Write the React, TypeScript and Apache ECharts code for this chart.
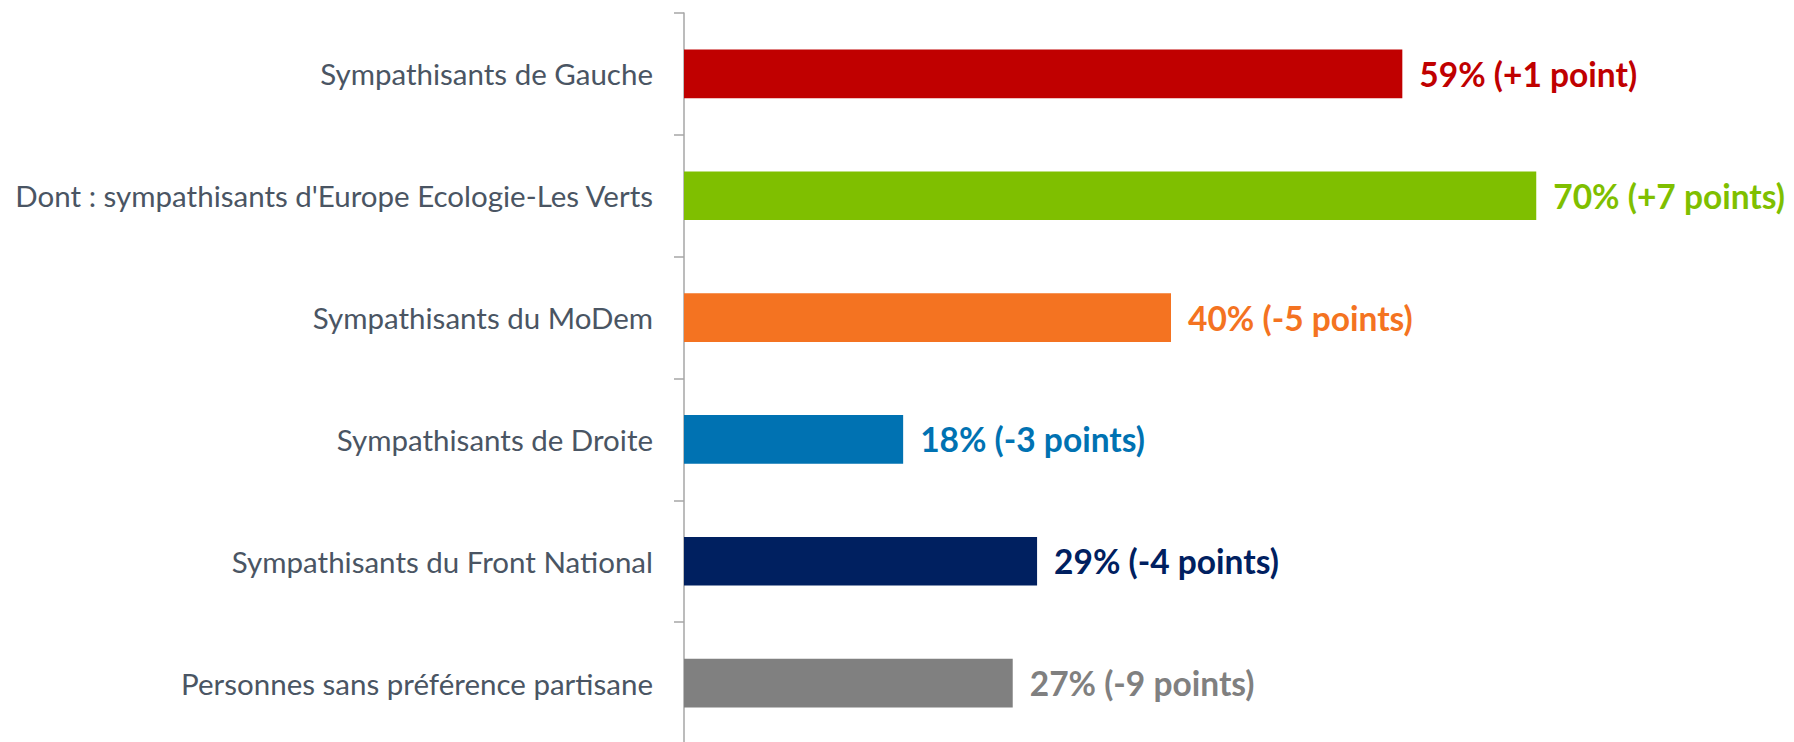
import React, { useEffect, useRef } from "react";
import * as echarts from "echarts";

const categories = [
  "Sympathisants de Gauche",
  "Dont : sympathisants d'Europe Ecologie-Les Verts",
  "Sympathisants du MoDem",
  "Sympathisants de Droite",
  "Sympathisants du Front National",
  "Personnes sans préférence partisane",
];
const values = [59, 70, 40, 18, 29, 27];
const deltas = ["(+1 point)", "(+7 points)", "(-5 points)", "(-3 points)", "(-4 points)", "(-9 points)"];
const colors = ["#C00000", "#7FBF00", "#F47321", "#0072B2", "#002060", "#808080"];

export default function App() {
  const ref = useRef<HTMLDivElement>(null);
  useEffect(() => {
    const chart = echarts.init(ref.current!, undefined, { renderer: "svg" });
    chart.setOption({
      animation: false,
      grid: { left: 684, top: 13, height: 731, right: 136 },
      xAxis: {
        type: "value",
        min: 0,
        max: 80,
        show: false,
      },
      yAxis: {
        type: "category",
        data: categories,
        inverse: true,
        axisLine: { show: true, lineStyle: { color: "#A6A6A6", width: 1.5 } },
        axisTick: { show: true, length: 10, lineStyle: { color: "#A6A6A6", width: 1.5 } },
        axisLabel: {
          margin: 31,
          fontFamily: "Lato",
          fontSize: 29.5,
          color: "#4A5563",
        },
      },
      series: [
        {
          type: "bar",
          barCategoryGap: "60%",
          data: values.map((v, i) => ({
            value: v,
            itemStyle: { color: colors[i] },
            label: { color: colors[i] },
          })),
          label: {
            show: true,
            position: "right",
            distance: 17,
            fontFamily: "Lato",
            fontWeight: "bold",
            fontSize: 33.5,
            formatter: (p: any) => `${p.value}% ${deltas[p.dataIndex]}`,
          },
        },
      ],
    });
    return () => chart.dispose();
  }, []);
  return (
    <div
      ref={ref}
      style={{ position: "fixed", left: 0, top: 0, width: 1794, height: 760, background: "#fff" }}
    />
  );
}
